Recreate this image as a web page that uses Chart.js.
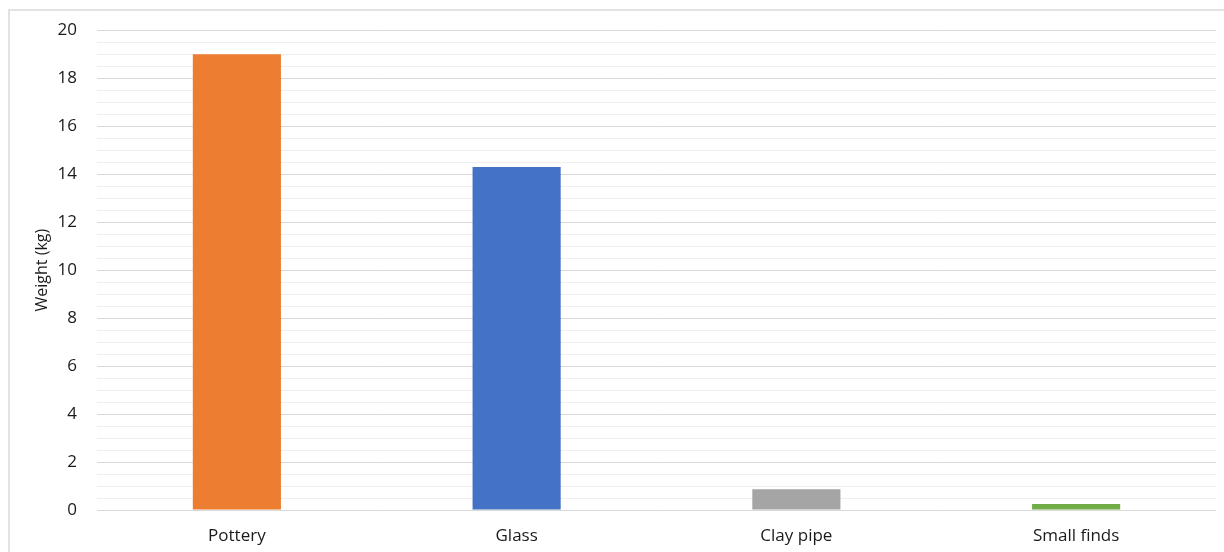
<!DOCTYPE html>
<html>
<head>
<meta charset="utf-8">
<script src="https://cdn.jsdelivr.net/npm/chart.js@4/dist/chart.umd.min.js"></script>
<style>
  html, body { margin: 0; padding: 0; background: #fff; overflow: hidden; }
  #wrap { position: relative; width: 1224px; height: 552px; }
  #frame { position: absolute; left: 8px; top: 9px; width: 1300px; height: 700px; border: 2px solid #e2e2e2; box-sizing: border-box; }
  canvas { position: absolute; left: 0; top: 0; }
</style>
</head>
<body>
<div id="wrap">
  <div id="frame"></div>
  <canvas id="c" width="1224" height="552"></canvas>
</div>
<script>
const categories = ["Pottery", "Glass", "Clay pipe", "Small finds"];
const weights = [19.0, 14.3, 0.86, 0.25];
const barColors = ["#ED7D31", "#4472C4", "#A5A5A5", "#70AD47"];
const yTicks = [0, 2, 4, 6, 8, 10, 12, 14, 16, 18, 20];
const yTitle = "Weight (kg)";

const FONT = "'Open Sans', 'Liberation Sans', sans-serif";

new Chart(document.getElementById('c'), {
  type: 'bar',
  data: {
    labels: categories,
    datasets: [{
      data: weights,
      backgroundColor: barColors,
      borderWidth: 0,
      categoryPercentage: 1.0,
      barPercentage: 0.315
    }]
  },
  options: {
    responsive: false,
    animation: false,
    layout: { padding: { top: 30, right: 8, left: 0, bottom: 0 } },
    plugins: { legend: { display: false }, tooltip: { enabled: false } },
    scales: {
      x: {
        grid: { display: false, drawTicks: false },
        border: { display: false },
        ticks: { color: '#1a1a1a', font: { family: FONT, size: 17 }, padding: 16, maxRotation: 0 },
        afterFit: (s) => { s.height = 42; }
      },
      y: {
        min: 0, max: 20,
        afterBuildTicks: (s) => {
          const t = [];
          for (let v = 0; v <= 40; v++) t.push({ value: v * 0.5 });
          s.ticks = t;
        },
        grid: {
          drawTicks: false,
          lineWidth: 1,
          color: (ctx) => {
            const v = ctx.tick ? ctx.tick.value : 0;
            return yTicks.includes(v) ? '#d9d9d9' : '#efefef';
          }
        },
        border: { display: false },
        ticks: {
          autoSkip: false,
          padding: 20,
          color: '#1a1a1a',
          font: { family: FONT, size: 17 },
          callback: (v) => yTicks.includes(v) ? String(v) : ''
        },
        title: {
          display: true,
          text: yTitle,
          color: '#1a1a1a',
          font: { family: FONT, size: 16 },
          padding: { top: 33, bottom: 0 }
        },
        afterFit: (s) => { s.width = 97; }
      }
    }
  }
});
</script>
</body>
</html>
